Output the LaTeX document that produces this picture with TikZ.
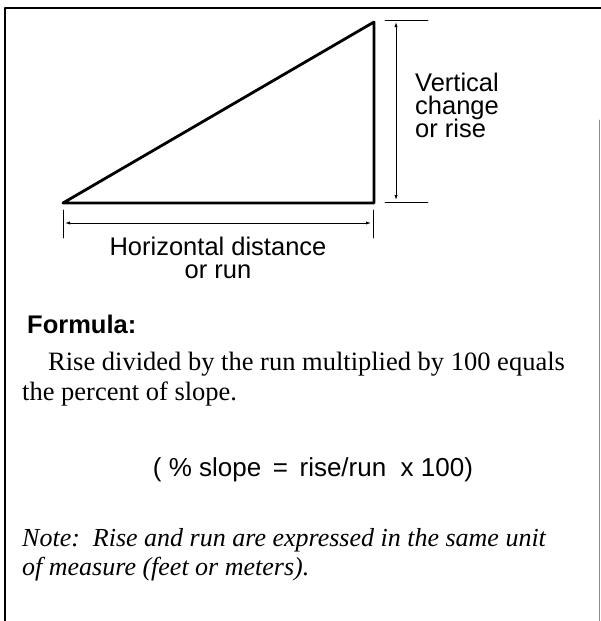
\documentclass[tikz,border=0pt]{standalone}
\usepackage{fontspec}
\setmainfont{Liberation Serif}
\setsansfont{Liberation Sans}
\usetikzlibrary{arrows.meta,positioning}

\begin{document}
\begin{tikzpicture}[x=1pt,y=-1pt,>={Latex[length=5pt,width=3.2pt]},line cap=round,line join=round]
\useasboundingbox[fill=white] (0,0) rectangle (601,621);
\tikzset{frame/.style={draw=black,line width=2.2pt},edge/.style={draw=black,line width=2.8pt},dimline/.style={draw=black,line width=0.8pt},tickline/.style={draw=black,line width=0.6pt},lbl/.style={inner sep=0pt,font=\sffamily\fontsize{25.5}{23}\selectfont},body/.style={inner sep=0pt,font=\fontsize{26.5}{30}\selectfont}}
% frame
\draw[frame] (5,621) -- (5,8) -- (601,8);
\draw[draw=black!45,line width=0.6pt] (599,120) -- (599,621);
% slope triangle
\coordinate (foot) at (63,203);
\coordinate (corner) at (374,203);
\coordinate (peak) at (374,22);
\draw[edge] (foot) -- (corner) -- (peak) -- cycle;
% rise dimension
\coordinate (riseTopA) at (385,20); \coordinate (riseTopB) at (428,20);
\coordinate (riseBotA) at (385,202); \coordinate (riseBotB) at (428,202);
\coordinate (riseUp) at (396,22); \coordinate (riseDown) at (396,200);
\draw[tickline] (riseTopA) -- (riseTopB);
\draw[tickline] (riseBotA) -- (riseBotB);
\draw[dimline,<->] (riseUp) -- (riseDown);
\node[lbl,anchor=base west] (vert1) at (415,91) {Vertical};
\node[lbl,anchor=base west] (vert2) at (415,114) {change};
\node[lbl,anchor=base west] (vert3) at (415,137) {or rise};
% run dimension
\coordinate (runLeftA) at (63,210); \coordinate (runLeftB) at (63,238);
\coordinate (runRightA) at (373,210); \coordinate (runRightB) at (373,238);
\coordinate (runFrom) at (65,223); \coordinate (runTo) at (371,223);
\draw[tickline] (runLeftA) -- (runLeftB);
\draw[tickline] (runRightA) -- (runRightB);
\draw[dimline,<->] (runFrom) -- (runTo);
\node[lbl,anchor=base] (horiz1) at (218,255) {Horizontal distance};
\node[lbl,anchor=base] (horiz2) at (218,278) {or run};
% formula text
\node[lbl,anchor=base west,font=\sffamily\bfseries\fontsize{25.5}{23}\selectfont] (formula) at (27,333) {Formula:};
\node[body,anchor=base west] (rise1) at (48,370) {Rise divided by the run multiplied by 100 equals};
\node[body,anchor=base west] (rise2) at (22,400) {the percent of slope.};
\node[lbl,anchor=base,font=\sffamily\fontsize{26}{23}\selectfont] (eqn) at (313,476) {( \% slope\, =\, rise/run\ \ x 100)};
\node[body,anchor=base west,font=\itshape\fontsize{26}{30}\selectfont] (note1) at (22,546) {Note:\ \ Rise and run are expressed in the same unit};
\node[body,anchor=base west,font=\itshape\fontsize{26}{30}\selectfont] (note2) at (22,575) {of measure (feet or meters).};
\end{tikzpicture}
\end{document}
